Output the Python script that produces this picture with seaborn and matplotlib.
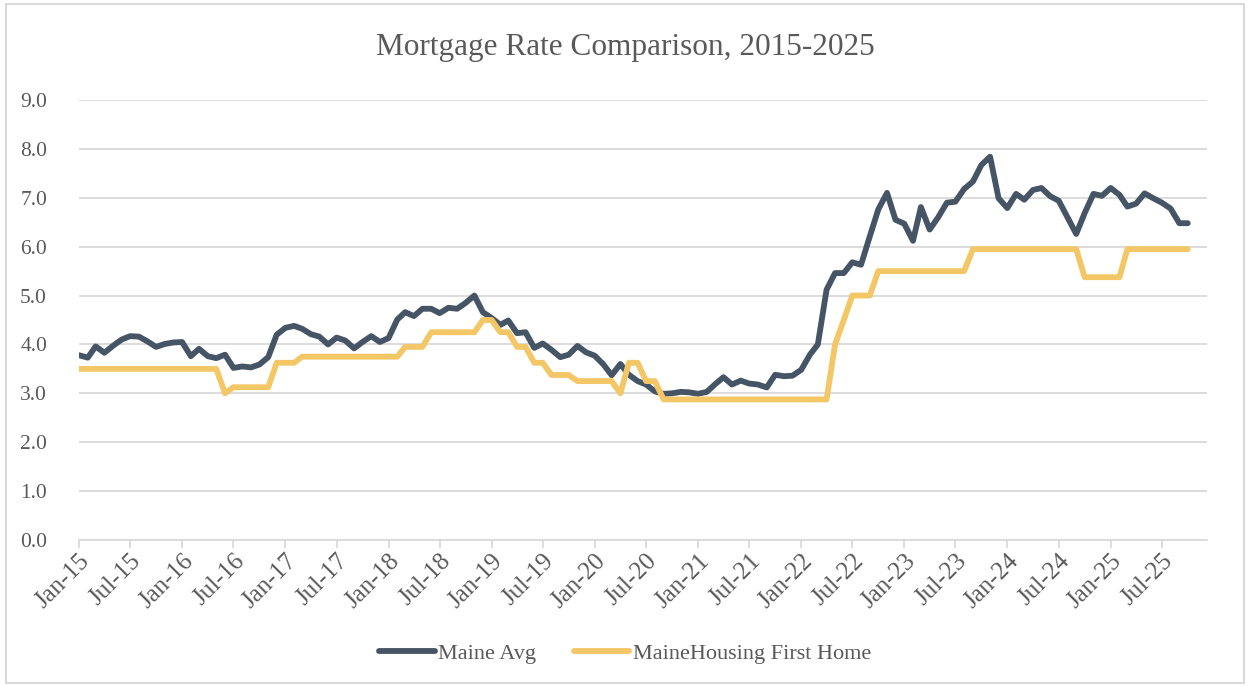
import pandas as pd
import numpy as np
import matplotlib
matplotlib.use("Agg")
import matplotlib.pyplot as plt
import matplotlib.dates as mdates
from matplotlib.patches import Rectangle
import seaborn as sns

# monthly values, Jan-15 .. Oct-25
months = pd.date_range("2015-01-01", "2025-10-01", freq="MS")

maine_avg = [
    3.78, 3.73, 3.96, 3.83, 3.97, 4.10, 4.17, 4.16, 4.06, 3.95, 4.01, 4.04,
    4.05, 3.76, 3.91, 3.76, 3.72, 3.79, 3.52, 3.55, 3.53, 3.59, 3.74, 4.20,
    4.34, 4.38, 4.32, 4.21, 4.16, 4.00, 4.14, 4.08, 3.92, 4.05, 4.17, 4.05,
    4.13, 4.51, 4.66, 4.58, 4.73, 4.73, 4.64, 4.75, 4.73, 4.85, 5.00, 4.66,
    4.54, 4.40, 4.49, 4.23, 4.25, 3.93, 4.02, 3.89, 3.74, 3.79, 3.97, 3.84,
    3.77, 3.59, 3.37, 3.60, 3.38, 3.25, 3.18, 3.04, 2.99, 3.00, 3.03, 3.02,
    2.99, 3.03, 3.18, 3.33, 3.18, 3.26, 3.20, 3.18, 3.12, 3.38, 3.35, 3.36,
    3.48, 3.79, 4.00, 5.12, 5.46, 5.46, 5.68, 5.63, 6.21, 6.76, 7.10, 6.55,
    6.47, 6.12, 6.81, 6.35, 6.60, 6.90, 6.92, 7.18, 7.33, 7.67, 7.84, 6.99,
    6.79, 7.08, 6.96, 7.16, 7.20, 7.03, 6.94, 6.60, 6.26, 6.69, 7.08, 7.04,
    7.20, 7.06, 6.82, 6.88, 7.09, 6.99, 6.90, 6.78, 6.48, 6.48,
]

first_home = [
    3.50, 3.50, 3.50, 3.50, 3.50, 3.50, 3.50, 3.50, 3.50, 3.50, 3.50, 3.50,
    3.50, 3.50, 3.50, 3.50, 3.50, 3.00, 3.125, 3.125, 3.125, 3.125, 3.125, 3.625,
    3.625, 3.625, 3.75, 3.75, 3.75, 3.75, 3.75, 3.75, 3.75, 3.75, 3.75, 3.75,
    3.75, 3.75, 3.95, 3.95, 3.95, 4.25, 4.25, 4.25, 4.25, 4.25, 4.25, 4.50,
    4.50, 4.25, 4.25, 3.95, 3.95, 3.625, 3.625, 3.375, 3.375, 3.375, 3.25, 3.25,
    3.25, 3.25, 3.25, 3.00, 3.625, 3.625, 3.25, 3.25, 2.875, 2.875, 2.875, 2.875,
    2.875, 2.875, 2.875, 2.875, 2.875, 2.875, 2.875, 2.875, 2.875, 2.875, 2.875, 2.875,
    2.875, 2.875, 2.875, 2.875, 4.00, 4.50, 5.00, 5.00, 5.00, 5.50, 5.50, 5.50,
    5.50, 5.50, 5.50, 5.50, 5.50, 5.50, 5.50, 5.50, 5.95, 5.95, 5.95, 5.95,
    5.95, 5.95, 5.95, 5.95, 5.95, 5.95, 5.95, 5.95, 5.95, 5.375, 5.375, 5.375,
    5.375, 5.375, 5.95, 5.95, 5.95, 5.95, 5.95, 5.95, 5.95, 5.95,
]

series_names = ["Maine Avg", "MaineHousing First Home"]
colors = ["#465566", "#F4C766"]

df = pd.DataFrame({"Month": months, series_names[0]: maine_avg, series_names[1]: first_home})
long_df = df.melt(id_vars="Month", var_name="Series", value_name="Rate")

sns.set_theme(style="white")
plt.rcParams["font.family"] = ["Liberation Serif", "DejaVu Serif"]
text_gray = "#595959"
grid_gray = "#d9d9d9"

fig = plt.figure(figsize=(12.5, 6.86), dpi=100)
ax = fig.add_axes([79 / 1250, 1 - 540 / 686, (1207 - 79) / 1250, 440 / 686])

sns.lineplot(data=long_df, x="Month", y="Rate", hue="Series", palette=colors,
             linewidth=4.2, ax=ax, legend=False)
for ln in ax.lines:
    ln.set_solid_capstyle("round")
    ln.set_solid_joinstyle("round")

ax.set_ylim(0, 9)
ax.set_yticks(np.arange(0, 9.5, 1.0))
ax.set_yticklabels([f"{v:.1f}" for v in np.arange(0, 9.5, 1.0)])
ax.set_xlim(pd.Timestamp("2015-01-01"), pd.Timestamp("2025-12-08"))
ax.xaxis.set_major_locator(mdates.MonthLocator(bymonth=[1, 7]))
ax.xaxis.set_major_formatter(mdates.DateFormatter("%b-%y"))

ax.grid(axis="y", color=grid_gray, linewidth=1.3)
ax.set_axisbelow(True)
for s in ["left", "right", "top"]:
    ax.spines[s].set_visible(False)
ax.spines["bottom"].set_color(grid_gray)
ax.spines["bottom"].set_linewidth(1.3)

ax.tick_params(axis="x", which="major", bottom=True, length=6, width=1.3, color=grid_gray,
               labelsize=18, labelcolor=text_gray, pad=1)
ax.tick_params(axis="y", left=False, labelsize=15.5, labelcolor=text_gray, pad=17)
for lbl in ax.get_xticklabels():
    lbl.set_rotation(45)
    lbl.set_ha("right")
    lbl.set_rotation_mode("anchor")
ax.set_xlabel("")
ax.set_ylabel("")

fig.text(0.5, 1 - 47 / 686, "Mortgage Rate Comparison, 2015-2025", ha="center", va="center",
         fontsize=22.5, color=text_gray)

handles = [plt.Line2D([], [], color=c, linewidth=4.2, solid_capstyle="round") for c in colors]
fig.legend(handles, series_names, loc="center", bbox_to_anchor=(0.5, 1 - 654 / 686), ncol=2,
           frameon=False, fontsize=16, labelcolor=text_gray, handlelength=2.5,
           handletextpad=0.15, columnspacing=1.7)

fig.patches.append(Rectangle((6 / 1250, 3 / 686), 1238 / 1250, 679 / 686, transform=fig.transFigure,
                             fill=False, edgecolor=grid_gray, linewidth=1.5))

fig.savefig("out.png", dpi=100, facecolor="white")
